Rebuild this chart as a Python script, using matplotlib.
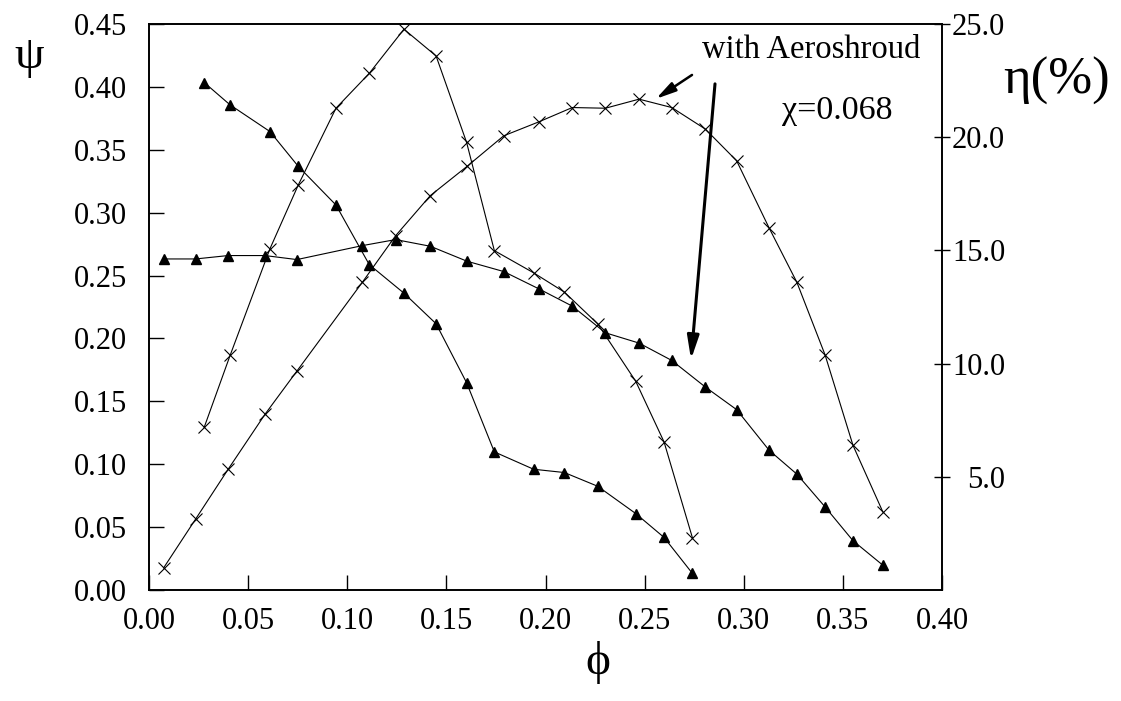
import matplotlib
matplotlib.use("Agg")
import matplotlib.pyplot as plt

plt.rcParams['font.family'] = ['Liberation Serif', 'DejaVu Serif']

# flow coefficient for the two test runs
phi_a = [0.0279, 0.0409, 0.0610, 0.0753, 0.0943, 0.1111, 0.1286, 0.1448,
         0.1602, 0.1742, 0.1940, 0.2095, 0.2263, 0.2455, 0.2598, 0.2741]
phi_b = [0.0074, 0.0235, 0.0399, 0.0585, 0.0746, 0.1076, 0.1244, 0.1419,
         0.1604, 0.1789, 0.1967, 0.2135, 0.2302, 0.2472, 0.2637, 0.2806,
         0.2964, 0.3128, 0.3268, 0.3410, 0.3551, 0.3701]

# pressure coefficient psi
psi_a = [0.4034, 0.3857, 0.3645, 0.3368, 0.3061, 0.2587, 0.2360, 0.2117,
         0.1648, 0.1098, 0.0960, 0.0934, 0.0825, 0.0608, 0.0418, 0.0132]
psi_b = [0.2632, 0.2632, 0.2659, 0.2659, 0.2627, 0.2738, 0.2786, 0.2733,
         0.2614, 0.2532, 0.2394, 0.2257, 0.2045, 0.1963, 0.1825, 0.1614,
         0.1434, 0.1111, 0.0921, 0.0661, 0.0392, 0.0198]

# efficiency eta (%)
eta_a = [7.20, 10.36, 15.07, 17.89, 21.28, 22.82, 24.77, 23.59,
         19.77, 14.99, 14.01, 13.16, 11.76, 9.22, 6.54, 2.31]
eta_b = [0.98, 3.13, 5.33, 7.76, 9.67, 13.59, 15.65, 17.42,
         18.71, 20.06, 20.68, 21.31, 21.28, 21.68, 21.31, 20.36,
         18.96, 15.99, 13.59, 10.39, 6.39, 3.46]

x_ticks = [0.00, 0.05, 0.10, 0.15, 0.20, 0.25, 0.30, 0.35, 0.40]
psi_ticks = [0.00, 0.05, 0.10, 0.15, 0.20, 0.25, 0.30, 0.35, 0.40, 0.45]
eta_ticks = [5, 10, 15, 20, 25]

fig = plt.figure(figsize=(11.21, 7.01), dpi=100)
ax = fig.add_axes([149 / 1121, 111 / 701, 793 / 1121, 566 / 701])
ax2 = ax.twinx()

ax.plot(phi_a, psi_a, color='k', lw=0.8, marker='^', ms=7.5, zorder=3)
ax.plot(phi_b, psi_b, color='k', lw=0.8, marker='^', ms=7.5, zorder=3)
ax2.plot(phi_a, eta_a, color='k', lw=0.8, marker='x', ms=8, mew=0.8)
ax2.plot(phi_b, eta_b, color='k', lw=0.8, marker='x', ms=8, mew=0.8)

ax.set_xlim(0, 0.40)
ax.set_ylim(0, 0.45)
ax2.set_ylim(0, 25)

ax.set_xticks(x_ticks)
ax.set_xticklabels(['%.2f' % v for v in x_ticks])
ax.set_yticks(psi_ticks)
ax.set_yticklabels(['%.2f' % v for v in psi_ticks])
ax2.set_yticks(eta_ticks)
ax2.set_yticklabels(['%.1f' % v for v in eta_ticks])

ax.tick_params(axis='both', direction='in', length=11, width=1.0,
               labelsize=22)
ax.tick_params(axis='y', pad=16)
ax.tick_params(axis='x', pad=12)
ax.tick_params(top=False, right=False)
ax2.tick_params(axis='y', direction='inout', length=11, width=1.0,
                labelsize=22, pad=40)
for lbl in ax2.get_yticklabels():
    lbl.set_horizontalalignment('right')

for a in (ax, ax2):
    for s in a.spines.values():
        s.set_linewidth(1.2)

# annotations
ax.text(0.3889, 0.4233, 'with Aeroshroud', ha='right', va='baseline',
        fontsize=23.5)
ax.text(0.3191, 0.3748, '\u03c7=0.068', ha='left', va='baseline',
        fontsize=24.5)
ax.annotate('', xy=(0.2557, 0.3905), xytext=(0.2739, 0.4095),
            arrowprops=dict(arrowstyle='-|>,head_length=1.2,head_width=0.3',
                            color='k', lw=1.8, shrinkA=0, shrinkB=0))
ax.annotate('', xy=(0.2734, 0.1833), xytext=(0.2855, 0.4024),
            arrowprops=dict(arrowstyle='-|>,head_length=1.4,head_width=0.35',
                            color='k', lw=2.2, shrinkA=0, shrinkB=0))

# axis symbols
fig.text(29 / 1121, 1 - 57 / 701, '\u03c8', fontsize=34,
         ha='center', va='center')
fig.text(1057 / 1121, 1 - 81 / 701, '\u03b7(%)', fontsize=38,
         ha='center', va='center')
fig.text(598 / 1121, 1 - 662 / 701, '\u03d5', fontsize=34,
         ha='center', va='center')

fig.savefig('out.png', dpi=100)
